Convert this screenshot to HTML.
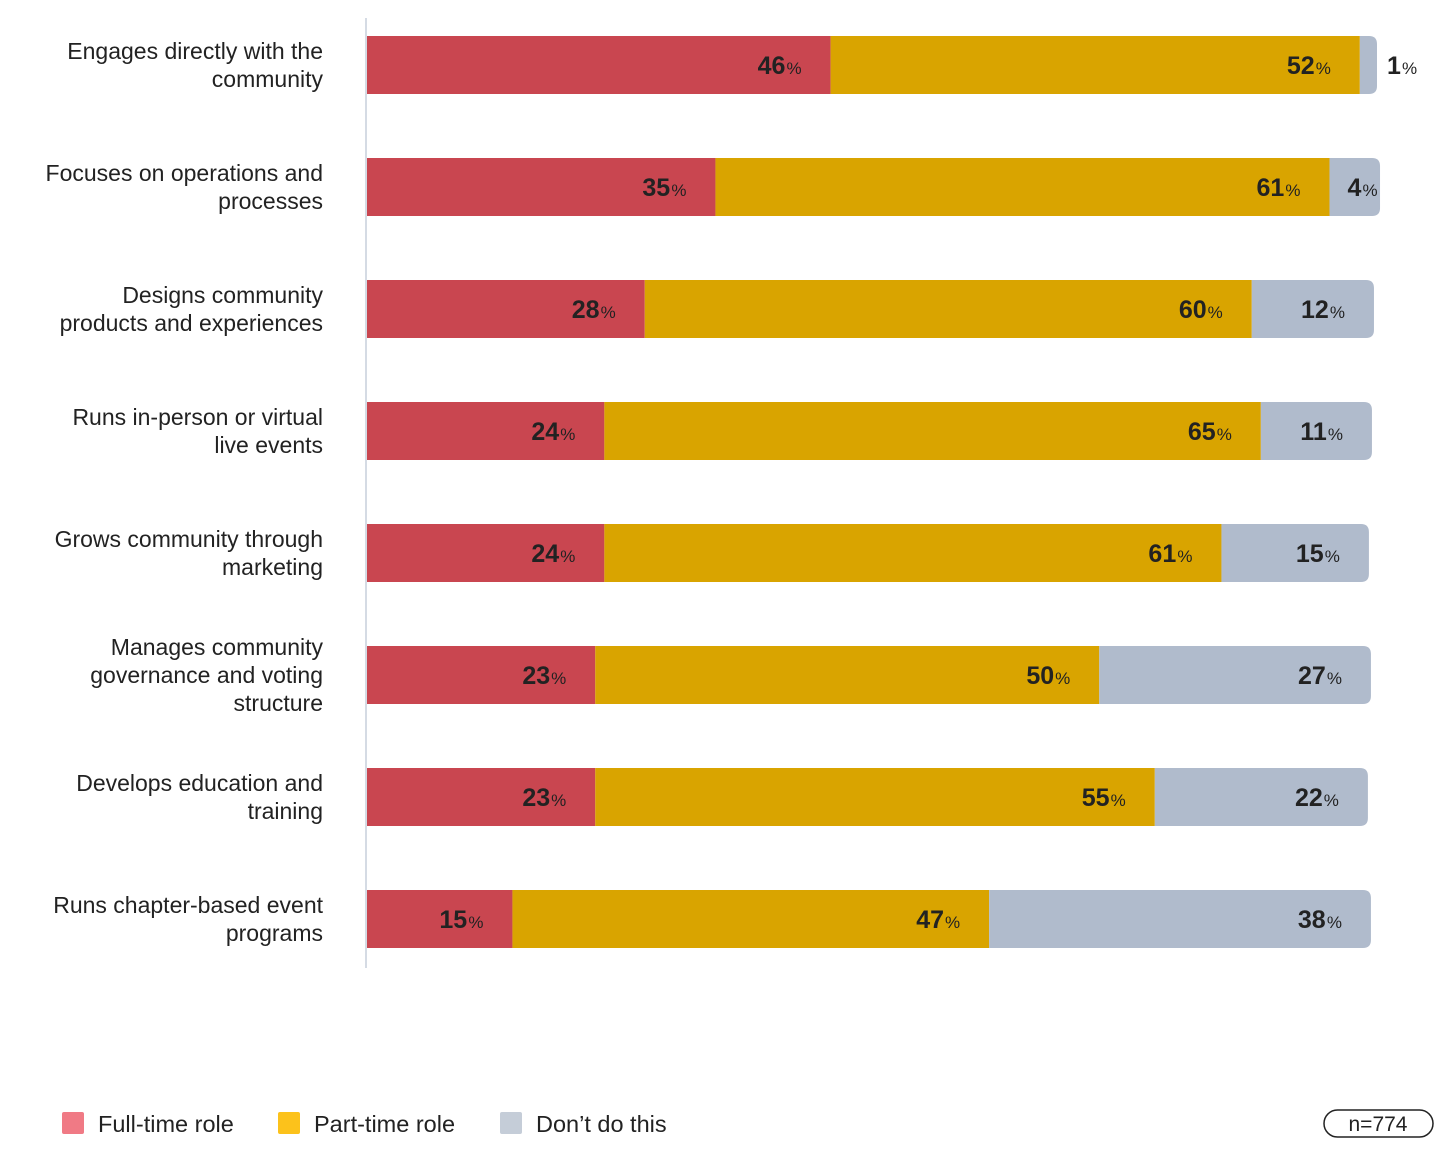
<!DOCTYPE html>
<html><head><meta charset="utf-8"><style>
body{margin:0;background:#fff;font-family:"Liberation Sans",sans-serif;}
svg{display:block}
</style></head><body>
<svg id="chart" width="1452" height="1155">
<line x1="366" y1="18" x2="366" y2="968" stroke="#d5dbe4" stroke-width="2"/>
<g id="rows"></g>
<g>
<rect x="62" y="1112" width="22" height="22" rx="2" fill="#f07a85"/>
<text x="98" y="1132" font-size="23.5" fill="#222">Full-time role</text>
<rect x="278" y="1112" width="22" height="22" rx="2" fill="#fcc21b"/>
<text x="314" y="1132" font-size="23.5" fill="#222">Part-time role</text>
<rect x="500" y="1112" width="22" height="22" rx="2" fill="#c5cdd8"/>
<text x="536" y="1132" font-size="23.5" fill="#222">Don’t do this</text>
</g>
<rect x="1324" y="1110" width="109" height="27" rx="13.5" fill="none" stroke="#222" stroke-width="1.5"/>
<text x="1378" y="1131" font-size="21" text-anchor="middle" fill="#222">n=774</text>
</svg>
<script>
const categories=[["Engages directly with the","community"],["Focuses on operations and","processes"],["Designs community","products and experiences"],["Runs in-person or virtual","live events"],["Grows community through","marketing"],["Manages community","governance and voting","structure"],["Develops education and","training"],["Runs chapter-based event","programs"]];
const fullTime=[45.9,34.5,27.5,23.5,23.5,22.6,22.6,14.4];
const partTime=[52.4,60.8,60.1,65,61.1,49.9,55.4,47.2];
const dontDo=[1.7,5.0,12.1,11,14.6,26.9,21.1,37.8];
const fullLabels=[46,35,28,24,24,23,23,15];
const partLabels=[52,61,60,65,61,50,55,47];
const dontLabels=[1,4,12,11,15,27,22,38];
const colors=["#c94650","#d9a400","#b0bbcc"];
const NS="http://www.w3.org/2000/svg";
const x0=367, pxPer=10.1, rowTop=36, rowStep=122, barH=58;
const xs=v=>v*pxPer;
const g=document.getElementById("rows");
function mk(t,a){const e=document.createElementNS(NS,t);for(const k in a)e.setAttribute(k,a[k]);return e;}
categories.forEach((cat,i)=>{
  const y=rowTop+i*rowStep, cy=y+barH/2;
  const n=cat.length, startY=cy-(n-1)*14+8;
  cat.forEach((ln,j)=>{
    const t=mk("text",{x:323,y:startY+j*28,"text-anchor":"end","font-size":23,fill:"#222"});
    
    
    t.textContent=ln;g.appendChild(t);
  });
  const vals=[fullTime[i],partTime[i],dontDo[i]], labs=[fullLabels[i],partLabels[i],dontLabels[i]];
  let x=x0;
  vals.forEach((v,k)=>{
    const w=xs(v);
    let r;
    if(k===2){
      const rr=Math.min(8,w);
      r=mk("path",{d:`M${x},${y}H${x+w-rr}Q${x+w},${y} ${x+w},${y+rr}V${y+barH-rr}Q${x+w},${y+barH} ${x+w-rr},${y+barH}H${x}Z`,fill:colors[k]});
    } else r=mk("rect",{x:x,y:y,width:w,height:barH,fill:colors[k]});
    
    
    g.appendChild(r);
    const t=mk("text",{x:0,y:cy+9,"font-size":25,"font-weight":"bold",fill:"#222"});
    
    
    t.textContent=labs[k];
    g.appendChild(t);
    const p=mk("text",{x:0,y:cy+9,"font-size":17,fill:"#222"});
    
    
    p.textContent="%";
    g.appendChild(p);
    const nw=t.getBBox().width, pw=p.getBBox().width;
    let sx;
    if(w<30) sx=x+w+10;
    else if(w<70) sx=x+18;
    else sx=x+w-29-pw-1-nw;
    t.setAttribute("x",sx);
    p.setAttribute("x",sx+nw+1);
    x+=w;
  });
});
</script>
</body></html>
